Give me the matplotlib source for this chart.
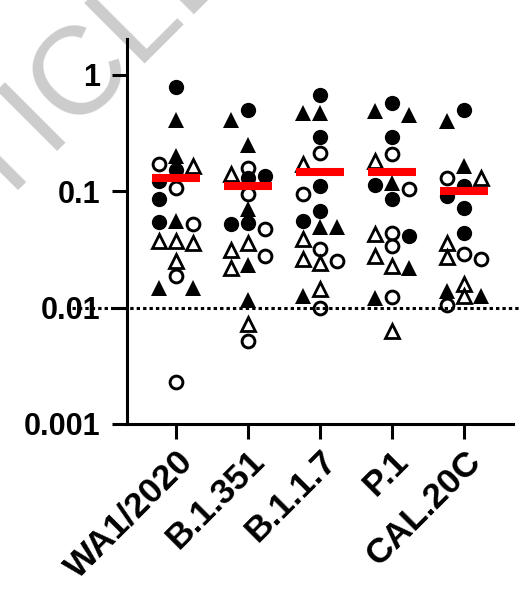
import matplotlib
matplotlib.use('Agg')
import matplotlib.pyplot as plt
from matplotlib.ticker import NullLocator, FixedLocator
import numpy as np

plt.rcParams['font.family'] = ['Liberation Sans', 'DejaVu Sans']

categories = ['WA1/2020', 'B.1.351', 'B.1.1.7', 'P.1', 'CAL.20C']

filled_circle = [
    [0.79, 0.153, 0.122, 0.085, 0.054],
    [0.50, 0.134, 0.13, 0.053, 0.052],
    [0.67, 0.29, 0.11, 0.067, 0.055],
    [0.57, 0.29, 0.112, 0.085, 0.041],
    [0.50, 0.11, 0.091, 0.072, 0.044],
]
filled_triangle = [
    [0.41, 0.20, 0.055, 0.0147, 0.0147],
    [0.41, 0.25, 0.07, 0.023, 0.0117],
    [0.47, 0.47, 0.049, 0.049, 0.0125],
    [0.485, 0.45, 0.118, 0.022, 0.0121],
    [0.40, 0.164, 0.0138, 0.0125],
]
open_circle = [
    [0.17, 0.107, 0.052, 0.0186, 0.0023],
    [0.158, 0.094, 0.047, 0.028, 0.0052],
    [0.213, 0.094, 0.032, 0.025, 0.010],
    [0.21, 0.105, 0.044, 0.034, 0.0123],
    [0.13, 0.029, 0.026, 0.0106],
]
open_triangle = [
    [0.164, 0.037, 0.037, 0.036, 0.025],
    [0.14, 0.036, 0.031, 0.022, 0.0072],
    [0.17, 0.039, 0.026, 0.024, 0.0144],
    [0.18, 0.043, 0.028, 0.0227, 0.0063],
    [0.13, 0.036, 0.027, 0.016, 0.0125],
]
center_line = [0.13, 0.11, 0.146, 0.146, 0.10]
threshold = 0.01
yticks = [0.001, 0.01, 0.1, 1]
ytick_labels = ['0.001', '0.01', '0.1', '1']

styles = {
    'fc': dict(marker='o', ms=11, mfc='black', mec='black', mew=0),
    'ft': dict(marker='^', ms=11.5, mfc='black', mec='black', mew=0),
    'oc': dict(marker='o', ms=9.2, mfc='white', mec='black', mew=2.1),
    'ot': dict(marker='^', ms=9.8, mfc='white', mec='black', mew=2.0),
}
series = [('fc', filled_circle), ('ft', filled_triangle),
          ('oc', open_circle), ('ot', open_triangle)]

fig = plt.figure(figsize=(5.2, 5.96), dpi=100)
fig.patch.set_facecolor('white')

fig.text(0.4742, 1.0648, 'ARTICLE', rotation=45, rotation_mode='anchor',
         ha='right', va='baseline', fontsize=90, color='#cccccc', zorder=-5)

ax = fig.add_axes([0.2442, 0.2886, 0.7423, 0.646])
ax.set_facecolor('none')
ax.set_yscale('log')
ax.set_ylim(0.001, 2.03)
ax.set_xlim(-0.68, 4.68)

# simple 3-column swarm layout computed in pixel space
step = 0.236
min_sep = 13.0
for i, cat in enumerate(categories):
    pts = []
    for key, data in series:
        for v in data[i]:
            pts.append((v, key))
    pts.sort(key=lambda p: -p[0])
    placed = []
    for v, key in pts:
        ypx = ax.transData.transform((i, v))[1]
        best_k, best_d = 0, -1.0
        for k in [0, -1, 1]:
            ds = [abs(py - ypx) for pk, py in placed if pk == k]
            d = min(ds) if ds else 1e9
            if d >= min_sep:
                best_k = k
                break
            if d > best_d:
                best_k, best_d = k, d
        placed.append((best_k, ypx))
        ax.plot([i + best_k * step], [v], linestyle='none', zorder=3, **styles[key])

for i, m in enumerate(center_line):
    ax.plot([i - 0.33, i + 0.33], [m, m], color='#ff0000', lw=5.8,
            solid_capstyle='butt', zorder=5)

ax.plot([-1.44, 4.78], [threshold, threshold], color='black', lw=2.2,
        ls=(0, (1.1, 1.0)), clip_on=False, zorder=6)

ax.spines['top'].set_visible(False)
ax.spines['right'].set_visible(False)
for s in ['left', 'bottom']:
    ax.spines[s].set_linewidth(2.2)

ax.yaxis.set_major_locator(FixedLocator(yticks))
ax.yaxis.set_minor_locator(NullLocator())
ax.set_yticklabels(ytick_labels, fontsize=22, fontweight='bold')
ax.set_xticks(range(len(categories)))
ax.set_xticklabels(categories, fontsize=25.5, fontweight='bold', rotation=45,
                   ha='right', va='top', rotation_mode='anchor')
ax.tick_params(axis='both', length=10.5, width=2.2, direction='out')
ax.tick_params(axis='y', pad=9)
ax.tick_params(axis='x', pad=4)

fig.savefig('out.png', dpi=100)
